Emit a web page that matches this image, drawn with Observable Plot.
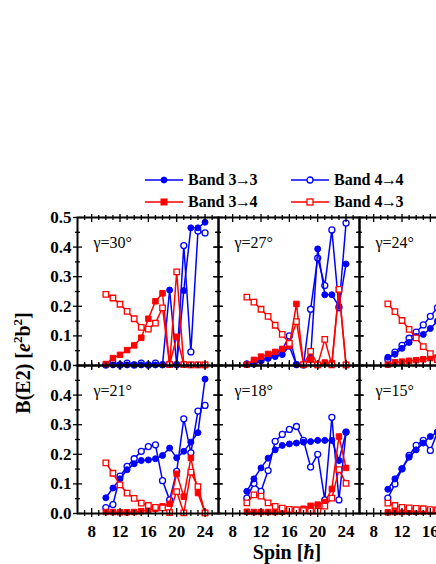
<!DOCTYPE html>
<html><head><meta charset="utf-8">
<script src="https://cdn.jsdelivr.net/npm/d3@7"></script>
<script src="https://cdn.jsdelivr.net/npm/@observablehq/plot@0.6"></script>
<style>
html,body{margin:0;padding:0;background:#fff;overflow:hidden;}
body{width:436px;height:564px;position:relative;font-family:"Liberation Serif","Times New Roman",serif;}
.item{position:absolute;display:flex;align-items:center;height:20px;font-weight:bold;font-size:16px;white-space:nowrap;}
.item svg{margin-right:5px;}
.arr{display:inline-block;margin:0 -1.5px;}
#ylab{position:absolute;left:23px;top:363px;transform:translate(-50%,-50%) rotate(-90deg);font-weight:bold;font-size:20px;line-height:1;white-space:nowrap;}
#xlab{position:absolute;left:287px;top:552px;transform:translate(-50%,-50%);font-weight:bold;font-size:20px;line-height:1;white-space:nowrap;}
#chart{position:absolute;left:0;top:210px;width:520px;}
#chart svg text{font-family:"Liberation Serif","Times New Roman",serif;}
sup{font-size:65%;line-height:0;}
</style>
</head><body>
<div id="legend"></div>
<div id="chart"></div>
<div id="ylab">B(E2) [<i>e</i><sup>2</sup>b<sup>2</sup>]</div>
<div id="xlab">Spin [<i>ħ</i>]</div>
<script>
// ---- data ----
const gammaLabels = ["γ=30°", "γ=27°", "γ=24°", "γ=21°", "γ=18°", "γ=15°"];
const spinsFull = [10,11,12,13,14,15,16,17,18,19,20,21,22,23,24];
const spinsCut  = [10,11,12,13,14,15,16,17];
const seriesNames = ["Band 3→3", "Band 4→4", "Band 3→4", "Band 4→3"];

// γ=30°
const b33_g30 = [0.002,0.002,0.002,0.002,0.002,0.002,0.002,0.002,0.002,0.255,0.003,0.253,0.465,0.465,0.484];
const b44_g30 = [0.002,0.008,0.002,0.008,0.002,0.008,0.002,0.008,0.003,0.005,0.003,0.405,0.046,0.454,0.448];
const b34_g30 = [0.005,0.025,0.036,0.052,0.068,0.094,0.158,0.217,0.244,0.003,0.097,0.003,0.002,0.002,0.002];
const b43_g30 = [0.240,0.228,0.207,0.183,0.158,0.129,0.123,0.143,0.195,0.003,0.316,0.003,0.002,0.002,0.002];
// γ=27°
const b33_g27 = [0.006,0.010,0.017,0.024,0.030,0.037,0.065,0.003,0.002,0.028,0.394,0.239,0.239,0.200,0.343];
const b44_g27 = [0.004,0.006,0.017,0.028,0.040,0.053,0.100,0.003,0.002,0.190,0.363,0.270,0.458,0.195,0.481];
const b34_g27 = [0.003,0.019,0.030,0.039,0.046,0.056,0.066,0.208,0.003,0.020,0.002,0.010,0.008,0.257,0.002];
const b43_g27 = [0.231,0.214,0.190,0.166,0.136,0.105,0.075,0.148,0.003,0.048,0.002,0.088,0.002,0.257,0.002];
// γ=24°
const b33_g24 = [0.028,0.038,0.058,0.078,0.098,0.105,0.125,0.150];
const b44_g24 = [0.020,0.045,0.068,0.092,0.113,0.137,0.166,0.195];
const b34_g24 = [0.003,0.011,0.013,0.016,0.018,0.021,0.025,0.027];
const b43_g24 = [0.208,0.182,0.152,0.122,0.093,0.064,0.040,0.020];
// γ=21°
const b33_g21 = [0.053,0.086,0.117,0.148,0.168,0.179,0.181,0.185,0.196,0.221,0.188,0.210,0.241,0.273,0.454];
const b44_g21 = [0.020,0.030,0.126,0.159,0.185,0.210,0.226,0.232,0.111,0.046,0.142,0.320,0.205,0.346,0.365];
const b34_g21 = [0.005,0.005,0.004,0.004,0.005,0.008,0.012,0.016,0.024,0.033,0.134,0.057,0.188,0.069,0.002];
const b43_g21 = [0.171,0.136,0.097,0.069,0.051,0.035,0.027,0.021,0.019,0.003,0.074,0.002,0.140,0.091,0.002];
// γ=18°
const b33_g18 = [0.075,0.117,0.154,0.187,0.215,0.230,0.235,0.238,0.241,0.243,0.247,0.247,0.247,0.179,0.275];
const b44_g18 = [0.052,0.102,0.075,0.145,0.244,0.267,0.284,0.294,0.247,0.157,0.200,0.046,0.325,0.046,0.275];
const b34_g18 = [0.006,0.005,0.005,0.005,0.005,0.006,0.008,0.012,0.016,0.026,0.030,0.038,0.083,0.260,0.154];
const b43_g18 = [0.036,0.063,0.059,0.036,0.024,0.018,0.014,0.012,0.010,0.008,0.008,0.025,0.052,0.148,0.102];
// γ=15°
const b33_g15 = [0.082,0.117,0.151,0.190,0.215,0.238,0.260,0.275];
const b44_g15 = [0.052,0.100,0.151,0.196,0.230,0.247,0.213,0.275];
const b34_g15 = [0.004,0.005,0.005,0.006,0.006,0.007,0.007,0.008];
const b43_g15 = [0.035,0.027,0.021,0.019,0.017,0.016,0.013,0.012];

const yTickValues = [0.0,0.1,0.2,0.3,0.4,0.5];
const xTickValues = [8,12,16,20,24];

// ---- build tables ----
const panels = [
  {g:0, spins:spinsFull, s:[b33_g30,b44_g30,b34_g30,b43_g30]},
  {g:1, spins:spinsFull, s:[b33_g27,b44_g27,b34_g27,b43_g27]},
  {g:2, spins:spinsCut,  s:[b33_g24,b44_g24,b34_g24,b43_g24]},
  {g:3, spins:spinsFull, s:[b33_g21,b44_g21,b34_g21,b43_g21]},
  {g:4, spins:spinsFull, s:[b33_g18,b44_g18,b34_g18,b43_g18]},
  {g:5, spins:spinsCut,  s:[b33_g15,b44_g15,b34_g15,b43_g15]}
];
const rows = panels.flatMap(p => p.spins.map((spin, i) => ({
  col: p.g % 3, row: Math.floor(p.g / 3), spin,
  b33: p.s[0][i], b44: p.s[1][i], b34: p.s[2][i], b43: p.s[3][i]
})));
const gammaRows = gammaLabels.map((t, g) => ({col: g % 3, row: Math.floor(g / 3), t}));
const yTickRows = [
  ...yTickValues.map(v => ({col:0, row:0, v})),
  ...yTickValues.filter(v => v < 0.45).map(v => ({col:0, row:1, v}))
];
const xTickRows = [0,1,2].flatMap(col => xTickValues.map(v => ({col, row:1, v})));

const BLUE = "#0000ff", RED = "#ff0000";
const SERIF = "Liberation Serif";
const xDom = [6, 25.9];
const xMinor = d3.range(7, 26).filter(v => !xTickValues.includes(v));
const yMinor = [0.05,0.15,0.25,0.35,0.45];

const tickStyle = {stroke: "black", strokeWidth: 1.3};
const fxy = {fx: "col", fy: "row"};

function seriesMarks(key, color, symbol, open) {
  return [
    Plot.line(rows, {...fxy, x: "spin", y: key, stroke: color, strokeWidth: 1.5}),
    Plot.dot(rows, {...fxy, x: "spin", y: key, symbol, r: symbol === "square" ? 3.1 : 3,
      fill: open ? "white" : color, stroke: color, strokeWidth: open ? 1.3 : 1})
  ];
}

const chart = Plot.plot({
  width: 520, height: 354,
  marginTop: 7, marginLeft: 77, marginRight: 20, marginBottom: 51,
  facet: {marginTop: 0, marginRight: 0, marginBottom: 0, marginLeft: 0},
  fx: {domain: [0,1,2], padding: 0, axis: null},
  fy: {domain: [0,1], padding: 0, axis: null},
  x: {domain: xDom, axis: null},
  y: {domain: [0, 0.5], axis: null},
  style: {fontFamily: SERIF, maxWidth: "none", overflow: "visible", background: "transparent"},
  marks: [
    ...seriesMarks("b44", BLUE, "circle", true),
    ...seriesMarks("b33", BLUE, "circle", false),
    ...seriesMarks("b34", RED, "square", false),
    ...seriesMarks("b43", RED, "square", true),
    // ticks: bottom & top edges
    Plot.ruleX(xTickValues, {x: d => d, y1: 0, y2: 0, insetTop: -5, insetBottom: -4, ...tickStyle}),
    Plot.ruleX(xMinor, {x: d => d, y1: 0, y2: 0, insetTop: -3, insetBottom: -3, ...tickStyle}),
    Plot.ruleX(xTickValues, {x: d => d, y1: 0.5, y2: 0.5, insetTop: -3, insetBottom: -5, ...tickStyle}),
    Plot.ruleX(xMinor, {x: d => d, y1: 0.5, y2: 0.5, insetTop: -2, insetBottom: -3, ...tickStyle}),
    // ticks: left & right edges
    Plot.ruleY(yTickValues, {y: d => d, x1: xDom[0], x2: xDom[0], insetLeft: -4, insetRight: -5, ...tickStyle}),
    Plot.ruleY(yMinor, {y: d => d, x1: xDom[0], x2: xDom[0], insetLeft: -2, insetRight: -3, ...tickStyle}),
    Plot.ruleY(yTickValues, {y: d => d, x1: xDom[1], x2: xDom[1], insetLeft: -5, insetRight: -4, ...tickStyle}),
    Plot.ruleY(yMinor, {y: d => d, x1: xDom[1], x2: xDom[1], insetLeft: -3, insetRight: -2, ...tickStyle}),
    Plot.frame({stroke: "black", strokeWidth: 2}),
    Plot.text(gammaRows, {fx: "col", fy: "row", text: "t", frameAnchor: "top-left", dx: 16, dy: 25,
      textAnchor: "start", lineAnchor: "middle", fontSize: 16, fontFamily: SERIF, fill: "black"}),
    Plot.text(yTickRows, {fx: "col", fy: "row", y: "v", text: d => d.v.toFixed(1), frameAnchor: "left",
      dx: -6, textAnchor: "end", lineAnchor: "middle", fontSize: 17, fontWeight: "bold", fontFamily: SERIF, fill: "black"}),
    Plot.text(xTickRows, {fx: "col", fy: "row", x: "v", text: d => String(d.v), frameAnchor: "bottom",
      dy: 18, textAnchor: "middle", lineAnchor: "middle", fontSize: 17, fontWeight: "bold", fontFamily: SERIF, fill: "black"})
  ]
});
document.getElementById("chart").appendChild(chart);

// ---- legend ----
const legendItems = [
  {name: seriesNames[0], color: BLUE, sym: "circle", open: false, left: 145, top: 170},
  {name: seriesNames[1], color: BLUE, sym: "circle", open: true,  left: 291, top: 170},
  {name: seriesNames[2], color: RED,  sym: "square", open: false, left: 145, top: 192},
  {name: seriesNames[3], color: RED,  sym: "square", open: true,  left: 291, top: 192}
];
const legend = document.getElementById("legend");
for (const it of legendItems) {
  const div = document.createElement("div");
  div.className = "item";
  div.style.left = it.left + "px";
  div.style.top = it.top + "px";
  const fill = it.open ? "white" : it.color;
  const marker = it.sym === "circle"
    ? `<circle cx="19" cy="5" r="3" fill="${fill}" stroke="${it.color}" stroke-width="${it.open ? 1.3 : 1}"/>`
    : `<rect x="16" y="2" width="6" height="6" fill="${fill}" stroke="${it.color}" stroke-width="${it.open ? 1.3 : 1}"/>`;
  const label = it.name.replace("→", '<span class="arr">→</span>');
  div.innerHTML = `<svg width="38" height="10"><line x1="0" x2="38" y1="5" y2="5" stroke="${it.color}" stroke-width="1.5"/>${marker}</svg><span>${label}</span>`;
  legend.appendChild(div);
}
</script>
</body></html>
